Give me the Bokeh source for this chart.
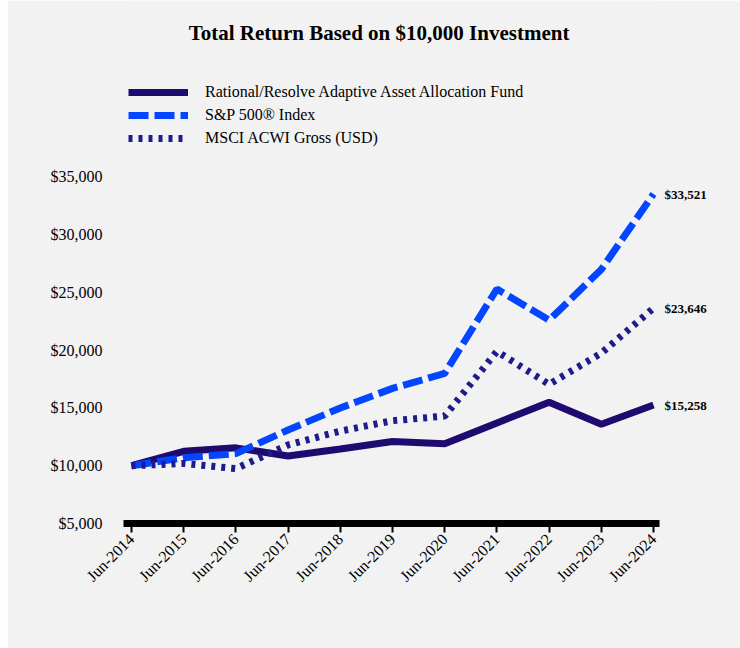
import math
from bokeh.plotting import figure
from bokeh.models import (Range1d, FixedTicker, Legend, LegendItem, Label,
                          LinearAxis, NumeralTickFormatter)
from bokeh.embed import file_html
from bokeh.resources import INLINE

# ---- data ----
periods = ["Jun-2014", "Jun-2015", "Jun-2016", "Jun-2017", "Jun-2018", "Jun-2019",
           "Jun-2020", "Jun-2021", "Jun-2022", "Jun-2023", "Jun-2024"]
fund = [10000, 11250, 11550, 10850, 11450, 12100, 11900, 13700, 15500, 13600, 15258]
sp500 = [10000, 10700, 11050, 13100, 15000, 16700, 18000, 25300, 22600, 27000, 33521]
msci = [10000, 10200, 9750, 11800, 13000, 13900, 14300, 19900, 17050, 19750, 23646]
series_names = ["Rational/Resolve Adaptive Asset Allocation Fund",
                "S&P 500\u00ae Index", "MSCI ACWI Gross (USD)"]
y_ticks = [5000, 10000, 15000, 20000, 25000, 30000, 35000]
title_text = "Total Return Based on $10,000 Investment"

xs = list(range(len(periods)))
BG = "#f2f2f2"
FONT = "Liberation Serif"

# frame spans from the top of the page down to the x axis bar; the upper part
# hosts the title and legend (no axis line / grid is drawn there)
p = figure(width=733, height=648, output_backend="svg", toolbar_location=None,
           title=None, x_range=Range1d(-0.153, 10.115), y_range=Range1d(5000, 50280),
           min_border_left=116, min_border_right=81, min_border_top=0,
           min_border_bottom=125, margin=(0, 0, 0, 7))
p.background_fill_color = BG
p.border_fill_color = BG
p.outline_line_color = None
p.xgrid.visible = False
p.ygrid.visible = False

r_fund = p.line(xs, fund, line_color="#1f0a70", line_width=7)
r_sp = p.line(xs, sp500, line_color="#0446ff", line_width=7, line_dash="20 6")
r_msci = p.line(xs, msci, line_color="#1e1c8c", line_width=7, line_dash="4 6")

# x axis
p.xaxis.ticker = FixedTicker(ticks=xs)
p.xaxis.major_label_overrides = {i: s for i, s in enumerate(periods)}
p.xaxis.major_label_orientation = math.pi / 4
p.xaxis.axis_line_width = 7
p.xaxis.axis_line_color = "black"
p.xaxis.major_tick_out = 9
p.xaxis.major_tick_in = 0
p.xaxis.major_tick_line_width = 2
p.xaxis.minor_tick_line_color = None
p.xaxis.major_label_text_font = FONT
p.xaxis.major_label_text_font_size = "16px"
p.xaxis.major_label_text_color = "black"
p.xaxis.major_label_standoff = 4

# y axis
p.yaxis.ticker = FixedTicker(ticks=y_ticks)
p.yaxis.formatter = NumeralTickFormatter(format="$0,0")
p.yaxis.axis_line_color = None
p.yaxis.major_tick_line_color = None
p.yaxis.minor_tick_line_color = None
p.yaxis.major_tick_out = 0
p.yaxis.major_tick_in = 0
p.yaxis.major_label_standoff = 21
p.yaxis.major_label_text_font = FONT
p.yaxis.major_label_text_font_size = "16px"
p.yaxis.major_label_text_color = "black"

# end-value labels as a right axis
end_vals = [sp500[-1], msci[-1], fund[-1]]
end_axis = LinearAxis(ticker=FixedTicker(ticks=end_vals),
                      major_label_overrides={v: "${:,}".format(v) for v in end_vals})
end_axis.axis_line_color = None
end_axis.major_tick_line_color = None
end_axis.minor_tick_line_color = None
end_axis.major_tick_out = 0
end_axis.major_tick_in = 0
end_axis.major_label_standoff = 5
end_axis.major_label_text_font = FONT
end_axis.major_label_text_font_size = "13px"
end_axis.major_label_text_font_style = "bold"
end_axis.major_label_text_color = "black"
p.add_layout(end_axis, "right")

# legend
legend = Legend(items=[LegendItem(label=series_names[0], renderers=[r_fund]),
                       LegendItem(label=series_names[1], renderers=[r_sp]),
                       LegendItem(label=series_names[2], renderers=[r_msci])],
                location=(5, 375), orientation="vertical")
legend.background_fill_alpha = 0
legend.border_line_color = None
legend.padding = 0
legend.margin = 0
legend.spacing = 3
legend.glyph_width = 60
legend.glyph_height = 20
legend.label_height = 20
legend.label_standoff = 17
legend.label_text_font = FONT
legend.label_text_font_size = "16px"
legend.label_text_color = "black"
p.add_layout(legend)

# title
p.add_layout(Label(x=255.5, y=491, x_units="screen", y_units="screen", text=title_text,
                   text_align="center", text_baseline="middle", text_font=FONT,
                   text_font_size="21px", text_font_style="bold", text_color="black"))

open("out.html", "w").write(file_html(p, INLINE))
